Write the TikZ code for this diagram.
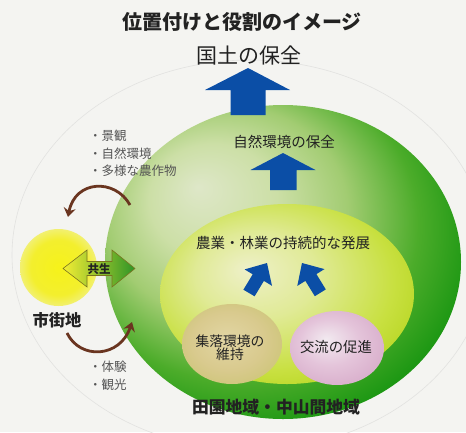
\documentclass[tikz,border=0pt]{standalone}
\usepackage{fontspec}
\newfontfamily\jp{Noto Sans CJK JP}
\usetikzlibrary{arrows.meta}
\definecolor{bg}{HTML}{F4F4F1}
\definecolor{txt}{HTML}{222222}
\definecolor{listc}{HTML}{555555}
\definecolor{bluearr}{HTML}{0B4EA6}
\definecolor{brownarr}{HTML}{6A3520}
\definecolor{faint}{HTML}{E2E2E0}
\definecolor{gA}{HTML}{DEE7C8}
\definecolor{gB}{HTML}{CCDFA6}
\definecolor{gC}{HTML}{A2CC72}
\definecolor{gD}{HTML}{4CAC2A}
\definecolor{gE}{HTML}{1E9814}
\definecolor{iA}{HTML}{EEF0C8}
\definecolor{iB}{HTML}{E0EA96}
\definecolor{iC}{HTML}{C8E040}
\definecolor{iD}{HTML}{B4D41C}
\definecolor{tA}{HTML}{E2D6A4}
\definecolor{tB}{HTML}{D9CA8E}
\definecolor{tC}{HTML}{CFC67C}
\definecolor{pA}{HTML}{F2EAF0}
\definecolor{pB}{HTML}{E4C4DA}
\definecolor{pC}{HTML}{D8AECB}
\definecolor{yA}{HTML}{F6F21A}
\definecolor{yB}{HTML}{F3EF2E}
\definecolor{yC}{HTML}{F2F070}
\definecolor{dblL}{HTML}{F4EE34}
\definecolor{dblM}{HTML}{C8DC2C}
\definecolor{dblR}{HTML}{2E9426}
\definecolor{dblO}{HTML}{7A7420}
\pgfdeclareradialshading{greenball}{\pgfqpoint{-12bp}{12bp}}{color(0bp)=(gA); color(9bp)=(gB); color(17bp)=(gC); color(25bp)=(gD); color(31bp)=(gE); color(50bp)=(gE)}
\pgfdeclareradialshading{innerball}{\pgfqpoint{-8bp}{7bp}}{color(0bp)=(iA); color(12bp)=(iB); color(25bp)=(iC); color(33bp)=(iD); color(50bp)=(iD)}
\pgfdeclareradialshading{tanball}{\pgfqpoint{-3bp}{3bp}}{color(0bp)=(tA); color(18bp)=(tB); color(28bp)=(tC); color(50bp)=(tC)}
\pgfdeclareradialshading{pinkball}{\pgfqpoint{-6bp}{6bp}}{color(0bp)=(pA); color(16bp)=(pB); color(30bp)=(pC); color(50bp)=(pC)}
\pgfdeclareradialshading{yellowball}{\pgfqpoint{0bp}{0bp}}{color(0bp)=(yA); color(18bp)=(yB); color(25bp)=(yC); color(50bp)=(yC)}
\tikzset{
  lbl/.style={inner sep=0pt, text=txt, align=center},
  listtxt/.style={inner sep=0pt, text=listc, anchor=west, font=\jp\fontsize{12.5}{14}\selectfont},
  bluebox/.style={fill=bluearr, draw=none},
  curvearr/.style={draw=brownarr, line width=2.8pt, -{Stealth[length=9pt,width=12pt,inset=3pt]}},
}
\begin{document}
\begin{tikzpicture}[x=1pt,y=-1pt]
\useasboundingbox (0,0) rectangle (466,432);
\fill[bg] (0,0) rectangle (466,432);
\begin{scope}
\clip (0,0) rectangle (466,432);
\draw[faint, line width=0.6pt] (250,255) ellipse [x radius=238, y radius=195];
\end{scope}
% big green region
\shade[shading=greenball] (283,262) ellipse [x radius=178, y radius=157];
% inner region
\shade[shading=innerball] (287,294) ellipse [x radius=127, y radius=90];
% small circles
\shade[shading=tanball] (232,344) ellipse [x radius=50, y radius=40];
\shade[shading=pinkball] (337,348) ellipse [x radius=47, y radius=37];
% yellow city circle
\shade[shading=yellowball] (58.5,267.5) circle [radius=38.5];

% texts
\node[lbl, font=\jp\bfseries\fontsize{20}{24}\selectfont] (title) at (242,22) {位置付けと役割のイメージ};
\node[lbl, font=\jp\fontsize{21}{25}\selectfont] (kokudo) at (249,55) {国土の保全};
\node[lbl, font=\jp\fontsize{14.5}{17}\selectfont] (shizen) at (284,142) {自然環境の保全};
\node[lbl, font=\jp\fontsize{14.5}{17}\selectfont] (nogyo) at (283,243) {農業・林業の持続的な発展};
\node[lbl, font=\jp\fontsize{13.8}{13}\selectfont] (shuraku) at (230,348) {集落環境の\\維持};
\node[lbl, font=\jp\fontsize{14.4}{17}\selectfont] (koryu) at (336,347) {交流の促進};
\node[lbl, font=\jp\bfseries\fontsize{16.8}{20}\selectfont] (denen) at (276,407) {田園地域・中山間地域};
\node[lbl, font=\jp\bfseries\fontsize{16.3}{20}\selectfont] (shigai) at (57,320) {市街地};

% lists
\node[listtxt] (l1) at (89,136) {・景観};
\node[listtxt] (l2) at (89,153.5) {・自然環境};
\node[listtxt] (l3) at (89,171) {・多様な農作物};
\node[listtxt] (l4) at (89,367) {・体験};
\node[listtxt] (l5) at (89,385) {・観光};

% blue arrows
\fill[bluebox] (248,68) -- (290,90) -- (265.5,90) -- (265.5,115) -- (230.5,115) -- (230.5,90) -- (205,90) -- cycle;
\fill[bluebox] (283,153) -- (315.5,170) -- (296.5,170) -- (296.5,190) -- (270,190) -- (270,170) -- (250.5,170) -- cycle;
\fill[bluebox] (267,263) -- (272.0,285.8) -- (263.9,280.9) -- (254.6,296.3) -- (243.4,289.7) -- (252.7,274.3) -- (244.6,269.4) -- cycle;
\fill[bluebox] (302,263) -- (324.5,269.1) -- (316.4,274.1) -- (325.8,289.4) -- (314.8,296.2) -- (305.4,280.9) -- (297.3,285.9) -- cycle;

% double arrow (symbiosis)
\shade[left color=dblL, middle color=dblM, right color=dblR, draw=dblO, line width=0.6pt]
  (63,268.5) -- (87,250) -- (87,261.5) -- (112,261.5) -- (112,250) -- (135,268.5)
  -- (112,287) -- (112,275.5) -- (87,275.5) -- (87,287) -- cycle;
\node[lbl, font=\jp\bfseries\fontsize{11.5}{13}\selectfont] (kyosei) at (99,269) {共生};

% brown curved arrows
\coordinate (a1s) at (130,205);
\coordinate (a1e) at (68,217);
\coordinate (a2s) at (67,333);
\coordinate (a2e) at (132,322);
\draw[curvearr] (a1s) .. controls (115,178) and (75,180) .. (a1e);
\draw[curvearr] (a2s) .. controls (80,360) and (120,358) .. (a2e);
\end{tikzpicture}
\end{document}
